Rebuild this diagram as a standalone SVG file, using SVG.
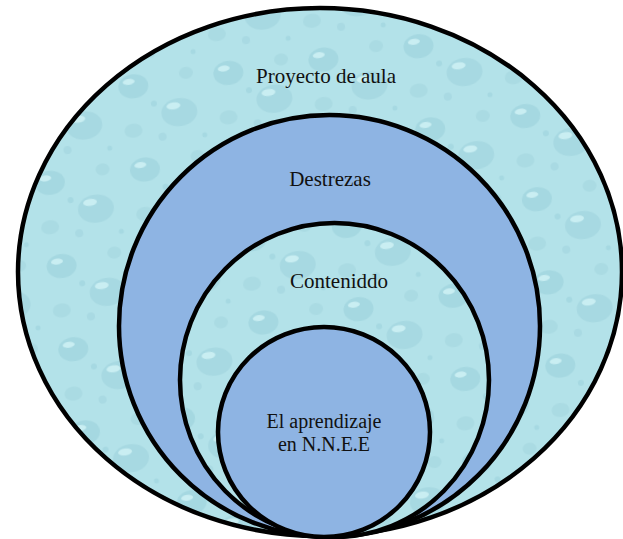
<svg xmlns="http://www.w3.org/2000/svg" width="623" height="539" viewBox="0 0 623 539">
  <style>
    .ring { stroke: #000; stroke-width: 4.5; }
    .blue { fill: #8EB4E3; }
    .water { fill: url(#drops); }
    .lbl { font-family: "Liberation Serif", "Times New Roman", serif; font-size: 21px; fill: #111; text-anchor: middle; }
    .sm { font-size: 20px; }
  </style>
  <defs>
    <pattern id="drops" patternUnits="userSpaceOnUse" width="96" height="84" patternTransform="rotate(-8)">
      <rect width="96" height="84" fill="#B3E2E9"/>
      <ellipse cx="24" cy="20" rx="15" ry="12" fill="#A5D8E1"/>
      <ellipse cx="20" cy="15" rx="6" ry="3" fill="#C9EEF2"/>
      <ellipse cx="66" cy="52" rx="18" ry="14" fill="#A7D9E2"/>
      <ellipse cx="61" cy="45" rx="7" ry="3.5" fill="#C9EEF2"/>
      <ellipse cx="78" cy="14" rx="7" ry="6" fill="#AADBE3"/>
      <ellipse cx="18" cy="64" rx="9" ry="7" fill="#AADBE3"/>
      <circle cx="42" cy="40" r="3" fill="#A6D9E2"/>
      <circle cx="88" cy="78" r="2.5" fill="#A6D9E2"/>
      <circle cx="46" cy="74" r="4" fill="#A9DAE3"/>
    </pattern>
  </defs>
  <g id="proyecto-de-aula">
    <ellipse class="ring water" cx="320" cy="272" rx="302" ry="264"/>
    <text class="lbl" x="326" y="83">Proyecto de aula</text>
  </g>
  <g id="destrezas">
    <ellipse class="ring blue" cx="329.5" cy="326" rx="210.5" ry="211"/>
    <text class="lbl" x="330" y="186">Destrezas</text>
  </g>
  <g id="contenido">
    <ellipse class="ring water" cx="334.5" cy="380" rx="154.5" ry="157"/>
    <text class="lbl" x="339" y="288">Conteniddo</text>
  </g>
  <g id="aprendizaje">
    <ellipse class="ring blue" cx="324" cy="432" rx="106" ry="105"/>
    <text class="lbl sm" x="324" y="428">El aprendizaje</text>
    <text class="lbl sm" x="324" y="451">en N.N.E.E</text>
  </g>
  <g id="connectors"/>
</svg>
